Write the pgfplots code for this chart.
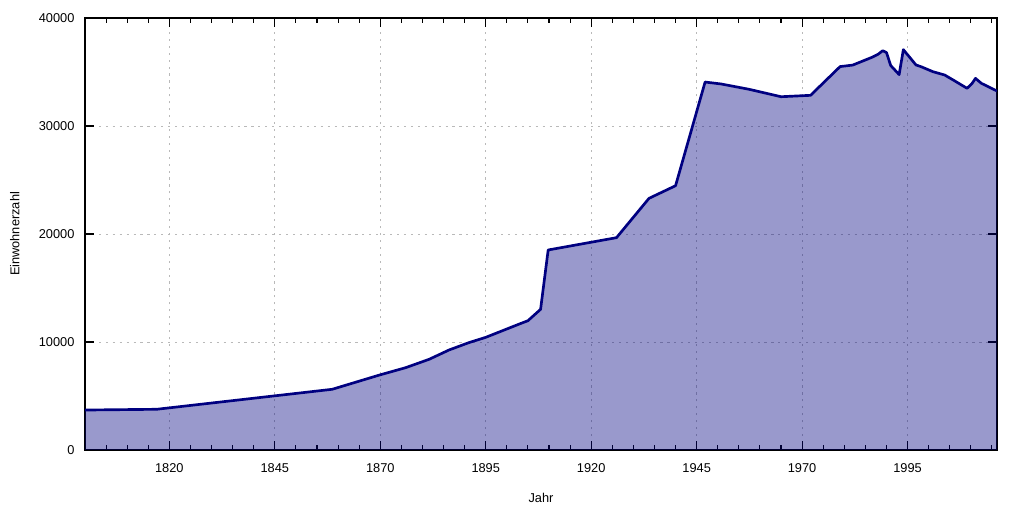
\documentclass[border=0pt]{standalone}
\usepackage{fontspec}
\setmainfont{Liberation Sans}
\usepackage{pgfplots}
\pgfplotsset{compat=1.18}
\definecolor{navy}{RGB}{0,0,128}
\begin{document}
\begin{tikzpicture}
\begin{axis}[
  scale only axis,
  width=684pt, height=324pt,
  xmin=1800, xmax=2016.2,
  ymin=0, ymax=40000,
  xtick={1820,1845,...,1995},
  minor xtick={1800,1805,...,2015},
  ytick={0,10000,20000,30000,40000},
  tick align=inside,
  major tick length=7pt,
  minor tick length=3.5pt,
  every tick/.style={black, line width=0.8pt},
  axis line style={black, line width=1pt},
  grid=major,
  major grid style={gray!55, dash pattern=on 1.6pt off 3.6pt, line width=0.7pt},
  /pgf/number format/assume math mode=true,
  /pgf/number format/1000 sep={},
  scaled y ticks=false,
  tick label style={font=\fontsize{9.6}{11}\selectfont},
  xticklabel style={anchor=north, yshift=-7pt},
  yticklabel style={anchor=east, xshift=-4.4pt},
  label style={font=\fontsize{9.6}{11}\selectfont},
  xlabel={Jahr},
  ylabel={Einwohnerzahl},
  xlabel style={at={(axis description cs:0.5,-0.111)}, anchor=center},
  ylabel style={at={(axis description cs:-0.0771,0.5)}, anchor=center},
]
\pgfplotstableread{
year pop
1800 3700
1817 3770
1858.6 5620
1869.8 6940
1876 7620
1881.6 8400
1886.3 9260
1891 9940
1895 10430
1903 11670
1905 11970
1908 13025
1909.8 18520
1926 19660
1933.7 23300
1940 24470
1947 34070
1950.8 33890
1957.4 33400
1965 32710
1972 32840
1979 35500
1982 35640
1986.5 36350
1988 36640
1989.1 36970
1990 36800
1991 35600
1993 34760
1994 37070
1997 35650
1998.2 35490
2001 35030
2003.8 34720
2006.5 34100
2009.1 33490
2010.3 33950
2011.1 34410
2012.5 33950
2016.2 33240
}\datatable
\addplot[draw=none, fill=navy, fill opacity=0.4] table[x=year,y=pop] {\datatable} \closedcycle;
\addplot[navy, line width=2pt, line join=round] table[x=year,y=pop] {\datatable};
\end{axis}
\pgfresetboundingbox
\path ([shift={(-63.75pt,-46.5pt)}]current axis.south west) rectangle ([shift={(20.25pt,13.5pt)}]current axis.north east);
\end{tikzpicture}
\end{document}
